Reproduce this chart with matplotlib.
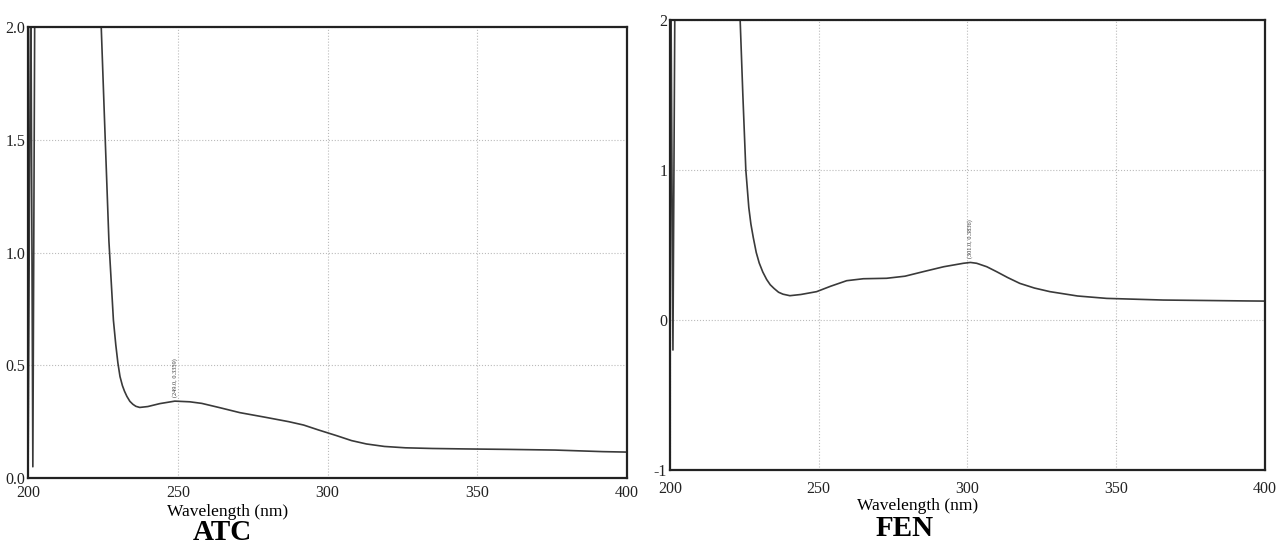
import matplotlib
matplotlib.use('Agg')
import matplotlib.pyplot as plt
import numpy as np

plt.rcParams['font.family'] = ['Liberation Serif', 'DejaVu Serif']

# ATC spectrum (wavelength nm, absorbance)
atc_wl = [200.0, 200.9, 201.6, 202.3, 210.0, 224.3, 225.5, 227.0, 228.5, 229.3,
          230.0, 230.7, 231.5, 232.2, 233.0, 234.0, 235.0, 236.0, 237.3, 240.0,
          244.0, 249.0, 254.0, 258.0, 264.0, 270.7, 279.0, 287.0, 292.0, 297.0,
          303.0, 308.0, 313.0, 319.0, 326.0, 335.0, 346.0, 360.0, 376.0, 392.0,
          400.0]
atc_abs = [0.0, 2.3, 0.05, 2.3, 2.3, 2.05, 1.6, 1.05, 0.70, 0.59,
           0.51, 0.45, 0.41, 0.385, 0.362, 0.340, 0.327, 0.318, 0.313, 0.317,
           0.330, 0.341, 0.338, 0.331, 0.312, 0.290, 0.270, 0.250, 0.235, 0.213,
           0.188, 0.166, 0.151, 0.140, 0.134, 0.131, 0.129, 0.127, 0.124, 0.117,
           0.115]

# FEN spectrum
fen_wl = [200.0, 200.3, 201.0, 201.7, 210.0, 223.5, 224.5, 225.5, 226.5, 227.2,
          228.0, 229.0, 230.0, 231.2, 232.5, 233.7, 235.0, 236.5, 238.0, 240.3,
          244.0, 249.3, 254.0, 259.4, 265.0, 272.8, 279.0, 285.1, 292.0, 298.6,
          301.0, 303.1, 306.5, 309.8, 313.5, 317.6, 322.5, 327.7, 337.0, 346.8,
          365.8, 380.0, 393.8, 400.0]
fen_abs = [-1.0, 2.3, -0.2, 2.3, 2.3, 2.05, 1.5, 1.0, 0.75, 0.64,
           0.55, 0.45, 0.38, 0.32, 0.27, 0.235, 0.21, 0.185, 0.172, 0.162,
           0.170, 0.189, 0.225, 0.262, 0.275, 0.278, 0.292, 0.322, 0.355, 0.378,
           0.3836, 0.378, 0.355, 0.322, 0.283, 0.244, 0.213, 0.189, 0.160, 0.144,
           0.133, 0.130, 0.127, 0.126]

atc_peak = (249.0, 0.3359)
fen_peak = (301.0, 0.3836)

x_ticks = [200, 250, 300, 350, 400]

fig = plt.figure(figsize=(12.81, 5.46), dpi=100)

ax1 = fig.add_axes([0.0219, 0.1245, 0.4676, 0.826])
ax2 = fig.add_axes([0.523, 0.1392, 0.4645, 0.8242])

panels = [
    (ax1, atc_wl, atc_abs, (0.0, 2.0), [0.0, 0.5, 1.0, 1.5, 2.0],
     ['0.0', '0.5', '1.0', '1.5', '2.0'], atc_peak, 0.36, 5),
    (ax2, fen_wl, fen_abs, (-1.0, 2.0), [-1, 0, 1, 2],
     ['-1', '0', '1', '2'], fen_peak, 0.41, 8),
]

for ax, wl, ab, ylim, yt, ytl, peak, ann_y, xpad in panels:
    ax.plot(wl, ab, color='#3a3a3a', lw=1.2, clip_on=True)
    ax.set_xlim(200, 400)
    ax.set_ylim(*ylim)
    ax.set_xticks(x_ticks)
    ax.set_xticklabels([str(t) for t in x_ticks])
    ax.set_yticks(yt)
    ax.set_yticklabels(ytl)
    ax.tick_params(axis='x', length=0, labelsize=11.5, pad=xpad, colors='#222222')
    ax.tick_params(axis='y', length=0, labelsize=11.5, pad=2, colors='#222222')
    ax.grid(True, linestyle=':', color='#bbbbbb', lw=0.8)
    for s in ax.spines.values():
        s.set_color('#222222')
        s.set_linewidth(1.6)
    ax.text(peak[0], ann_y, '(%.1f, %.4f)' % peak, rotation=90,
            ha='center', va='bottom', fontsize=4.5, color='#333333')

fig.text(228 / 1281, 1 - 512 / 546, 'Wavelength (nm)', ha='center', va='center',
         fontsize=12.5)
fig.text(918 / 1281, 1 - 506 / 546, 'Wavelength (nm)', ha='center', va='center',
         fontsize=12.5)
fig.text(222 / 1281, 1 - 533 / 546, 'ATC', ha='center', va='center',
         fontsize=21, fontweight='bold')
fig.text(905 / 1281, 1 - 528 / 546, 'FEN', ha='center', va='center',
         fontsize=21, fontweight='bold')

fig.savefig('out.png', dpi=100)
